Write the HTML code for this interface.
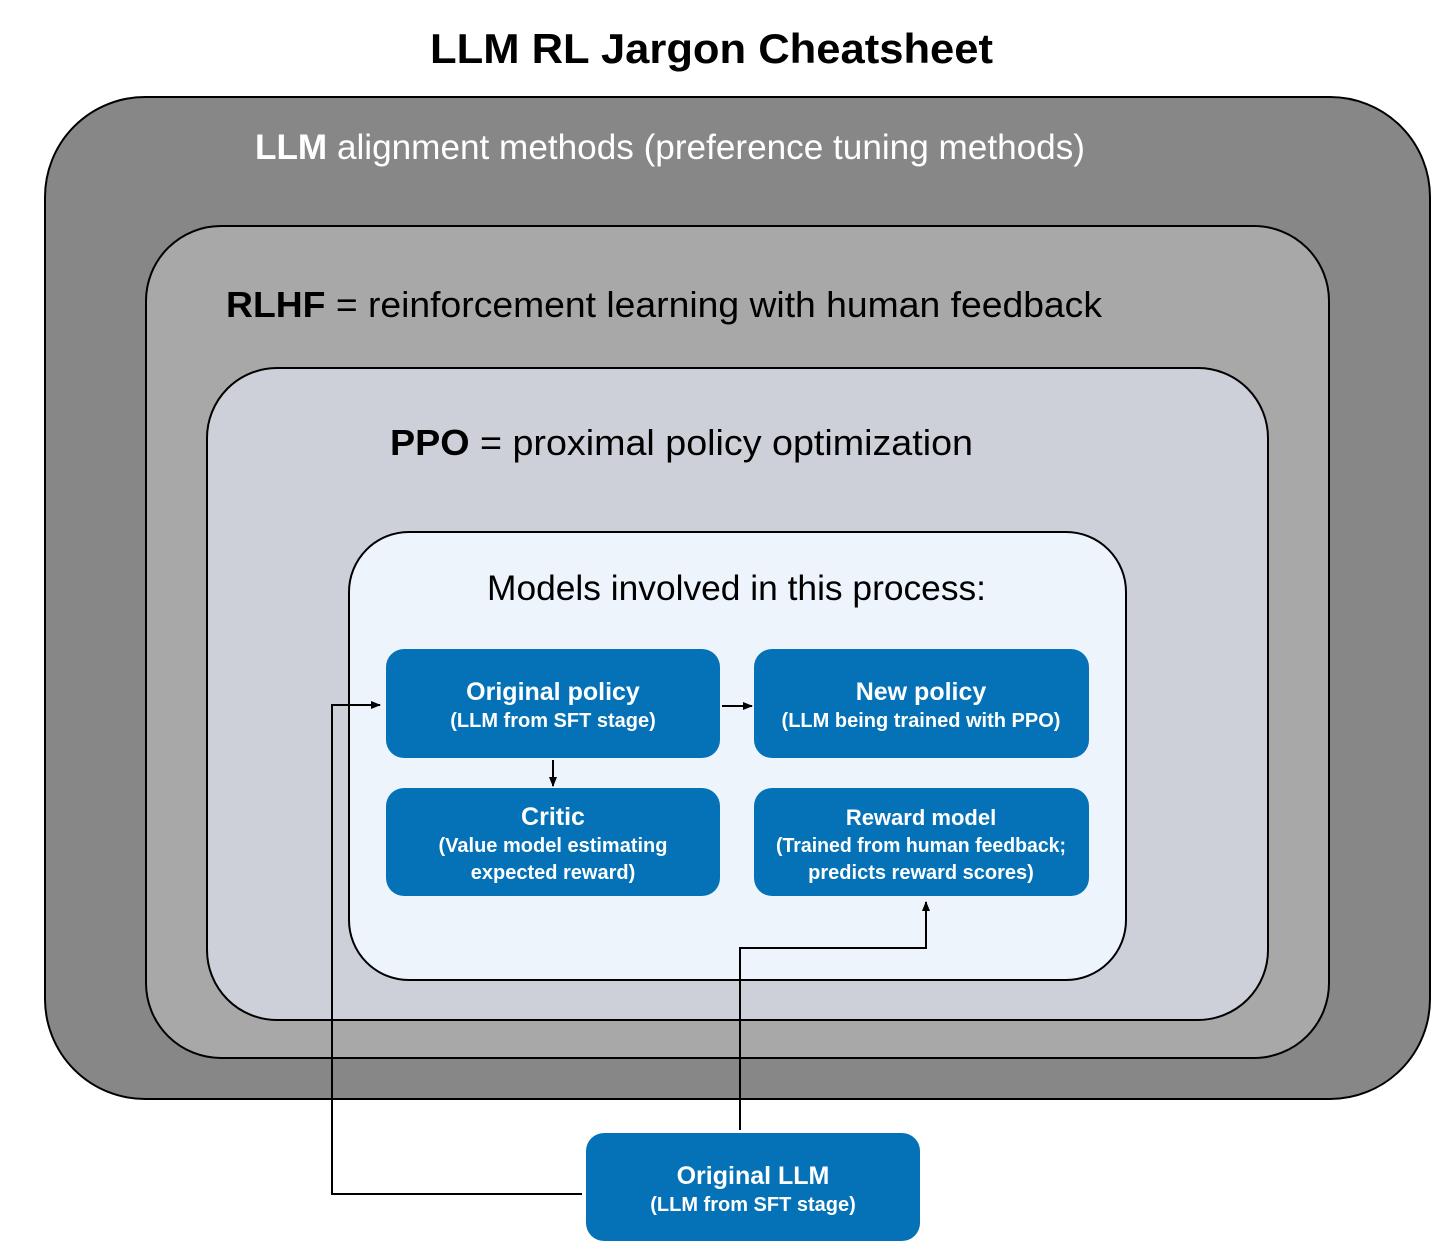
<!DOCTYPE html>
<html><head><meta charset="utf-8"><style>body{margin:0;background:#fff}svg{display:block}text{font-family:"Liberation Sans",Arial,sans-serif}</style></head>
<body>
<svg width="1456" height="1259" viewBox="0 0 1456 1259" xmlns="http://www.w3.org/2000/svg">
<defs><marker id="a" markerWidth="10" markerHeight="10" refX="9" refY="5" orient="auto" markerUnits="userSpaceOnUse"><path d="M0,1 L10,5 L0,9 z" fill="#000"/></marker></defs>
<text x="430" y="63" font-size="42" font-weight="bold" textLength="563" lengthAdjust="spacingAndGlyphs">LLM RL Jargon Cheatsheet</text>
<rect x="45" y="97" width="1385" height="1002" rx="100" fill="#878787" stroke="#000" stroke-width="2"/>
<text x="255" y="159" font-size="35" fill="#fff" textLength="830" lengthAdjust="spacingAndGlyphs"><tspan font-weight="bold">LLM</tspan> alignment methods (preference tuning methods)</text>
<rect x="146" y="226" width="1183" height="832" rx="75" fill="#a8a8a8" stroke="#000" stroke-width="2"/>
<text x="226" y="317" font-size="36" fill="#000" textLength="876" lengthAdjust="spacingAndGlyphs"><tspan font-weight="bold">RLHF</tspan> = reinforcement learning with human feedback</text>
<rect x="207" y="368" width="1061" height="652" rx="70" fill="#cdd0d9" stroke="#000" stroke-width="2"/>
<text x="390" y="455" font-size="36" fill="#000" textLength="583" lengthAdjust="spacingAndGlyphs"><tspan font-weight="bold">PPO</tspan> = proximal policy optimization</text>
<rect x="349" y="532" width="777" height="448" rx="60" fill="#eef4fc" stroke="#000" stroke-width="2"/>
<text x="487" y="600" font-size="35" textLength="499" lengthAdjust="spacingAndGlyphs">Models involved in this process:</text>
<g fill="#0572b8">
<rect x="386" y="649" width="334" height="109" rx="18"/>
<rect x="754" y="649" width="335" height="109" rx="18"/>
<rect x="386" y="788" width="334" height="108" rx="18"/>
<rect x="754" y="788" width="335" height="108" rx="18"/>
<rect x="586" y="1133" width="334" height="108" rx="18"/>
</g>
<g fill="#fff" font-weight="bold" text-anchor="middle">
<text x="553" y="700" font-size="25">Original policy</text>
<text x="553" y="727" font-size="20">(LLM from SFT stage)</text>
<text x="921" y="700" font-size="25">New policy</text>
<text x="921" y="727" font-size="20">(LLM being trained with PPO)</text>
<text x="553" y="825" font-size="25">Critic</text>
<text x="553" y="852" font-size="20">(Value model estimating</text>
<text x="553" y="879" font-size="20">expected reward)</text>
<text x="921" y="825" font-size="22">Reward model</text>
<text x="921" y="852" font-size="20" textLength="290" lengthAdjust="spacingAndGlyphs">(Trained from human feedback;</text>
<text x="921" y="879" font-size="20">predicts reward scores)</text>
<text x="753" y="1184" font-size="25">Original LLM</text>
<text x="753" y="1211" font-size="20">(LLM from SFT stage)</text>
</g>
<g stroke="#000" stroke-width="2" fill="none">
<path d="M582,1194 H332 V705 H380" marker-end="url(#a)"/>
<path d="M740,1130 V948 H926 V902" marker-end="url(#a)"/>
<path d="M722,706 H752" marker-end="url(#a)"/>
<path d="M553,760 V786" marker-end="url(#a)"/>
</g>
</svg>
</body></html>
